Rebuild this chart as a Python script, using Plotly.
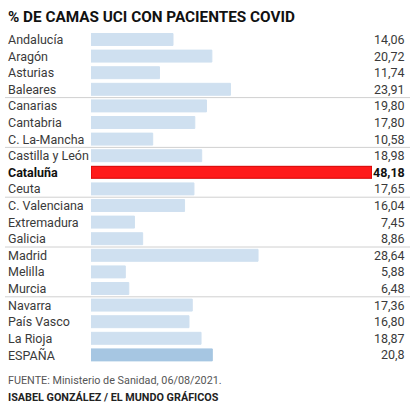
import plotly.graph_objects as go

regions = ["Andalucía", "Aragón", "Asturias", "Baleares", "Canarias", "Cantabria",
           "C. La-Mancha", "Castilla y León", "Cataluña", "Ceuta", "C. Valenciana",
           "Extremadura", "Galicia", "Madrid", "Melilla", "Murcia", "Navarra",
           "País Vasco", "La Rioja", "ESPAÑA"]
values = [14.06, 20.72, 11.74, 23.91, 19.80, 17.80, 10.58, 18.98, 48.18, 17.65,
          16.04, 7.45, 8.86, 28.64, 5.88, 6.48, 17.36, 16.80, 18.87, 20.8]
value_labels = ["14,06", "20,72", "11,74", "23,91", "19,80", "17,80", "10,58", "18,98",
                "48,18", "17,65", "16,04", "7,45", "8,86", "28,64", "5,88", "6,48",
                "17,36", "16,80", "18,87", "20,8"]
highlight = "Cataluña"
total = "ESPAÑA"
separators_after = ["Baleares", "C. La-Mancha", "Ceuta", "Galicia", "Murcia"]

W, H = 412, 411
row0, step = 39.5, 16.6
ys = list(range(len(regions)))

colors, lines = [], []
for r in regions:
    if r == highlight:
        colors.append("#ff1a1a"); lines.append("#d40000")
    elif r == total:
        colors.append("#a6c6e2"); lines.append("#a6c6e2")
    else:
        colors.append("#cfe0f0"); lines.append("#cfe0f0")

fig = go.Figure(go.Bar(
    x=values, y=ys, orientation="h", width=0.72,
    marker=dict(color=colors, line=dict(color=lines, width=1)),
    hoverinfo="skip",
))

y_top = -row0 / step
y_bot = (H - row0) / step

fig.update_layout(
    width=W, height=H, margin=dict(l=0, r=0, t=0, b=0),
    paper_bgcolor="white", plot_bgcolor="white", showlegend=False,
    xaxis=dict(domain=[91 / W, 372 / W], range=[0, max(values)], visible=False, fixedrange=True),
    yaxis=dict(domain=[0, 1], range=[y_bot, y_top], visible=False, fixedrange=True),
    font=dict(family="Roboto", size=12, color="#3a3a3a"),
)

ann = []
for i, (r, v) in enumerate(zip(regions, value_labels)):
    bold = r == highlight
    ann.append(dict(x=6 / W, xref="paper", y=i, yref="y", xanchor="left", yanchor="middle",
                    text=f"<b>{r}</b>" if bold else r, showarrow=False,
                    font=dict(size=12.5, color="#111" if bold else "#3a3a3a")))
    ann.append(dict(x=407 / W, xref="paper", y=i, yref="y", xanchor="right", yanchor="middle",
                    text=f"<b>{v}</b>" if bold else v, showarrow=False,
                    font=dict(size=12.5, color="#111" if bold else "#3a3a3a")))

ann.append(dict(x=6 / W, xref="paper", y=1 - 17 / H, yref="paper", xanchor="left", yanchor="middle",
                text="<b>% DE CAMAS UCI CON PACIENTES COVID</b>", showarrow=False,
                font=dict(size=15.3, color="#111")))
ann.append(dict(x=6 / W, xref="paper", y=1 - 380 / H, yref="paper", xanchor="left", yanchor="middle",
                text="FUENTE: Ministerio de Sanidad, 06/08/2021.", showarrow=False,
                font=dict(size=10.8, color="#555")))
ann.append(dict(x=6 / W, xref="paper", y=1 - 397 / H, yref="paper", xanchor="left", yanchor="middle",
                text="<b>ISABEL GONZÁLEZ / EL MUNDO GRÁFICOS</b>", showarrow=False,
                font=dict(size=10.8, color="#222")))

shapes = []
for r in separators_after:
    i = regions.index(r)
    shapes.append(dict(type="line", xref="paper", yref="y", x0=5 / W, x1=410 / W,
                       y0=i + 0.5, y1=i + 0.5, line=dict(color="#d0d0d0", width=1)))

fig.update_layout(annotations=ann, shapes=shapes)
fig.write_html("out.html", config={"displayModeBar": False})
